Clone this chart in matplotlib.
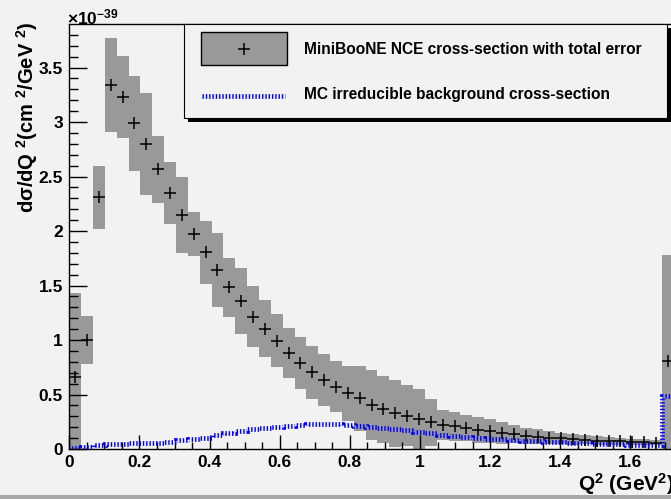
import numpy as np
import matplotlib
matplotlib.use("Agg")
import matplotlib.pyplot as plt
from matplotlib.patches import Rectangle
from matplotlib.lines import Line2D

# ---------------- data (units of 1e-39 cm^2/GeV^2) ----------------
bin_width = 0.0338
n_bins = 51
xsec = [0.663, 1.00, 2.309, 3.339, 3.232, 2.988, 2.798, 2.566, 2.346, 2.147,
        1.972, 1.804, 1.642, 1.483, 1.358, 1.214, 1.104, 0.994, 0.884, 0.792,
        0.703, 0.633, 0.572, 0.511, 0.465, 0.404, 0.365, 0.327, 0.306, 0.275,
        0.245, 0.222, 0.207, 0.193, 0.178, 0.162, 0.148, 0.137, 0.122, 0.113,
        0.104, 0.097, 0.089, 0.085, 0.078, 0.072, 0.069, 0.064, 0.061, 0.058,
        0.810]
xsec_err = [0.77, 0.22, 0.29, 0.43, 0.374, 0.434, 0.465, 0.306, 0.284, 0.346,
            0.20, 0.288, 0.343, 0.27, 0.30, 0.28, 0.263, 0.245, 0.23, 0.238,
            0.245, 0.239, 0.232, 0.254, 0.30, 0.32, 0.307, 0.306, 0.281, 0.272,
            0.214, 0.138, 0.136, 0.119, 0.119, 0.11, 0.102, 0.083, 0.074, 0.067,
            0.061, 0.053, 0.049, 0.043, 0.041, 0.038, 0.035, 0.031, 0.028, 0.025,
            0.97]
mc_bkg = [0.005, 0.02, 0.035, 0.05, 0.05, 0.052, 0.052, 0.055, 0.062, 0.08,
          0.088, 0.105, 0.125, 0.15, 0.168, 0.182, 0.195, 0.205, 0.215, 0.222,
          0.228, 0.23, 0.228, 0.22, 0.212, 0.20, 0.19, 0.18, 0.172, 0.16,
          0.148, 0.125, 0.118, 0.11, 0.105, 0.095, 0.088, 0.082, 0.075, 0.07,
          0.064, 0.06, 0.055, 0.052, 0.048, 0.045, 0.042, 0.04, 0.037, 0.035,
          0.49]
legend_labels = ["MiniBooNE NCE cross-section with total error",
                 "MC irreducible background cross-section"]
x_ticks = [0, 0.2, 0.4, 0.6, 0.8, 1.0, 1.2, 1.4, 1.6]
x_tick_labels = ["0", "0.2", "0.4", "0.6", "0.8", "1", "1.2", "1.4", "1.6"]
y_ticks = [0, 0.5, 1.0, 1.5, 2.0, 2.5, 3.0, 3.5]
y_tick_labels = ["0", "0.5", "1", "1.5", "2", "2.5", "3", "3.5"]

# ---------------- style ----------------
plt.rcParams["font.family"] = ["Liberation Sans", "DejaVu Sans"]
plt.rcParams["font.weight"] = "bold"
plt.rcParams["mathtext.fontset"] = "custom"
plt.rcParams["mathtext.rm"] = "Liberation Sans:bold"
plt.rcParams["mathtext.it"] = "Liberation Sans:bold"
plt.rcParams["mathtext.bf"] = "Liberation Sans:bold"
plt.rcParams["mathtext.sf"] = "Liberation Sans:bold"
plt.rcParams["mathtext.default"] = "rm"

BG = "#f2f2f2"
GRAY = "#999999"
W, H = 671, 499
fig = plt.figure(figsize=(W / 100, H / 100), dpi=100, facecolor=BG)

def fx(px):
    return px / W

def fy(py):
    return 1 - py / H

# canvas bevel (bottom dark band)
fig.patches.append(Rectangle((0, 0), 1, 4 / H, transform=fig.transFigure,
                             facecolor="#a8a8a8", edgecolor="none", zorder=0))

x0_px, xscale = 69.3, 350.7
y0_px, ytop_px = 449, 24
xmax = 1.75
ax = fig.add_axes([fx(x0_px), fy(y0_px), xmax * xscale / W, (y0_px - ytop_px) / H])
ax.set_facecolor(BG)
ax.set_xlim(0, xmax)
ax.set_ylim(0, 3.9)

edges = np.arange(n_bins + 1) * bin_width
centers = (edges[:-1] + edges[1:]) / 2
xsec_a = np.array(xsec)
err_a = np.array(xsec_err)

ax.bar(centers, 2 * err_a, bottom=xsec_a - err_a, width=bin_width,
       color=GRAY, edgecolor="none", linewidth=0, zorder=1)
ax.stairs(mc_bkg, edges, baseline=0, color="#0000ff", lw=3.4,
          linestyle=(0, (0.3, 0.4)), zorder=2)
ax.plot(centers, xsec_a, linestyle="none", marker="+", ms=9, mew=1.1,
        color="black", zorder=3)

for s in ["left", "bottom", "top", "right"]:
    ax.spines[s].set_linewidth(1.0)
    ax.spines[s].set_color("black")

ax.set_xticks(x_ticks)
ax.set_xticklabels(x_tick_labels)
ax.set_xticks(np.arange(0, 1.76, 0.05), minor=True)
ax.set_yticks(y_ticks)
ax.set_yticklabels(y_tick_labels)
ax.set_yticks(np.arange(0, 3.9, 0.1), minor=True)
ax.tick_params(axis="x", which="major", direction="in", length=9.8, width=1,
               labelsize=12.5, pad=4.5)
ax.tick_params(axis="x", which="minor", direction="in", length=4.8, width=1)
ax.tick_params(axis="y", which="major", direction="in", length=12.7, width=1,
               labelsize=12.5, pad=4.5)
ax.tick_params(axis="y", which="minor", direction="in", length=6.6, width=1)
ax.tick_params(right=False, top=False, which="both")
for lab in ax.get_xticklabels() + ax.get_yticklabels():
    lab.set_fontweight("bold")

# multiplier
fig.text(fx(67), fy(17), r"$\times$10$^{-39}$", fontsize=12.5, fontweight="bold",
         ha="left", va="center")

# axis titles
fig.text(fx(27), fy(21), "d\u03c3/dQ $^{2}$(cm $^{2}$/GeV $^{2}$)", rotation=90,
         fontsize=14.5, fontweight="bold", ha="center", va="top")
fig.text(fx(578), fy(491), "Q$^{2}$ (GeV$^{2}$)", fontsize=15, fontweight="bold",
         ha="left", va="baseline")

# legend box with shadow
lx0, lx1, ly0, ly1 = 184, 667, 24, 118
fig.patches.append(Rectangle((fx(lx0 + 4), fy(ly1 + 4)), fx(lx1 - lx0), (ly1 - ly0) / H,
                             transform=fig.transFigure, facecolor="black",
                             edgecolor="none", zorder=5))
fig.patches.append(Rectangle((fx(lx0), fy(ly1)), fx(lx1 - lx0), (ly1 - ly0) / H,
                             transform=fig.transFigure, facecolor=BG,
                             edgecolor="black", lw=0.8, zorder=6))
fig.patches.append(Rectangle((fx(201), fy(65)), fx(86), 33 / H,
                             transform=fig.transFigure, facecolor=GRAY,
                             edgecolor="black", lw=1.0, zorder=7))
fig.lines.append(Line2D([fx(244)], [fy(48.5)], transform=fig.transFigure,
                        marker="+", ms=9, mew=1.1, color="black", zorder=8))
fig.lines.append(Line2D([fx(202), fx(285)], [fy(96), fy(96)], transform=fig.transFigure,
                        color="#0000ff", lw=3.4, linestyle=(0, (0.3, 0.4)), zorder=8))
fig.text(fx(304), fy(49), legend_labels[0], fontsize=11.2, fontweight="bold",
         ha="left", va="center", zorder=9)
fig.text(fx(304), fy(95), legend_labels[1], fontsize=11.2, fontweight="bold",
         ha="left", va="center", zorder=9)

fig.savefig("out.png", dpi=100, facecolor=BG)
